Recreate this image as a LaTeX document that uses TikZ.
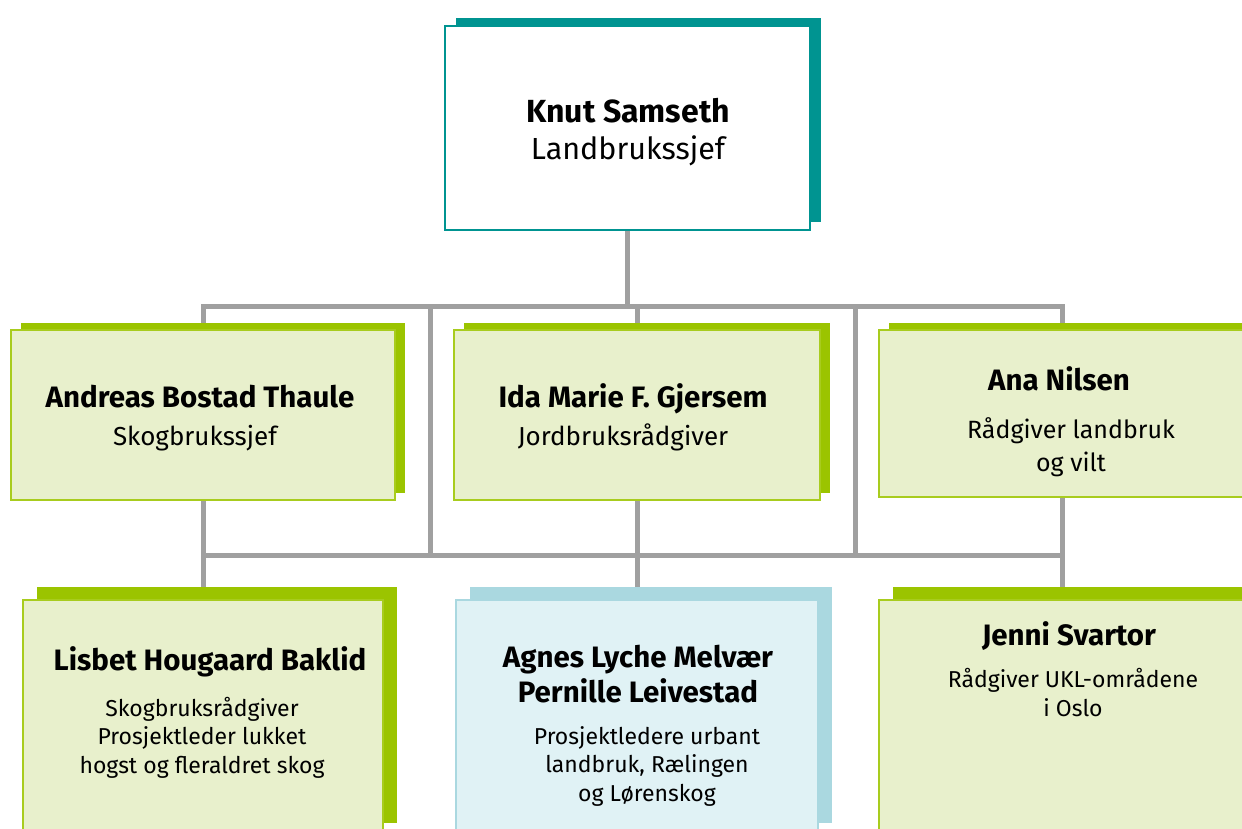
\documentclass[tikz,border=0pt]{standalone}
\usepackage{fontspec}
\setmainfont{Fira Sans}
\usetikzlibrary{shadows,backgrounds}

\definecolor{teal1}{HTML}{009491}
\definecolor{gronn}{HTML}{9BC400}
\definecolor{kantgronn}{HTML}{A8CC1E}
\definecolor{lysgronn}{HTML}{E8F0CC}
\definecolor{bla}{HTML}{AAD8E0}
\definecolor{lysbla}{HTML}{E0F2F5}
\definecolor{linjegraa}{HTML}{A0A0A0}

\begin{document}
\begin{tikzpicture}[x=1pt, y=-1pt,
  box/.style={rectangle, inner sep=0pt, outer sep=0pt, line width=1.5pt},
  lederbox/.style={box, fill=white, draw=teal1, minimum width=365pt, minimum height=204pt,
    general shadow={shadow xshift=11pt, shadow yshift=8pt, fill=teal1}},
  midtbox/.style={box, fill=lysgronn, draw=kantgronn, minimum width=366pt, minimum height=170pt,
    general shadow={shadow xshift=10pt, shadow yshift=7pt, fill=gronn}},
  nedrebox/.style={box, fill=lysgronn, draw=kantgronn, minimum width=362pt, minimum height=236pt,
    general shadow={shadow xshift=14pt, shadow yshift=13pt, fill=gronn}},
  blabox/.style={nedrebox, fill=lysbla, draw=bla,
    general shadow={shadow xshift=14pt, shadow yshift=13pt, fill=bla}},
  bus/.style={draw=linjegraa, line width=5pt},
  navn/.style={anchor=base, align=center, inner sep=0pt, font=\bfseries\fontsize{29.5}{35}\selectfont},
  rolle/.style={anchor=base, align=center, inner sep=0pt, font=\fontsize{23}{28.5}\selectfont},
  midtrolle/.style={rolle, font=\fontsize{26}{33}\selectfont}]
\useasboundingbox (0,0) rectangle (1242,829);

% boksene
\node[lederbox] (leder) at (627.5,128) {};
\node[midtbox, minimum width=384pt] (skog) at (203,415) {};
\node[midtbox] (jord) at (637,415) {};
\node[midtbox, minimum height=167pt] (vilt) at (1062,413.5) {};
\node[nedrebox, minimum width=360pt] (skograd) at (203,718) {};
\node[blabox] (urban) at (637,718) {};
\node[nedrebox, minimum width=366pt] (ukl) at (1062,718) {};

% tekstene
\node[navn, font=\bfseries\fontsize{32}{37}\selectfont] (leder-navn) at (628,123) {Knut Samseth};
\node[rolle, font=\fontsize{30.5}{37}\selectfont] (leder-rolle) at (628,160) {Landbrukssjef};
\node[navn] (skog-navn) at (200,407) {Andreas Bostad Thaule};
\node[midtrolle] (skog-rolle) at (195,445) {Skogbrukssjef};
\node[navn] (jord-navn) at (633,407) {Ida Marie F. Gjersem};
\node[midtrolle] (jord-rolle) at (623,445) {Jordbruksrådgiver};
\node[navn] (vilt-navn) at (1059,390) {Ana Nilsen};
\node[midtrolle, font=\fontsize{25}{32.5}\selectfont] (vilt-rolle) at (1071,471) {Rådgiver landbruk\\og vilt};
\node[navn] (skograd-navn) at (210,670) {Lisbet Hougaard Baklid};
\node[rolle] (skograd-rolle) at (202,773) {Skogbruksrådgiver\\Prosjektleder lukket\\hogst og fleraldret skog};
\node[navn] (urban-navn) at (638,702) {Agnes Lyche Melvær\\Pernille Leivestad};
\node[rolle] (urban-rolle) at (647,801) {Prosjektledere urbant\\landbruk, Rælingen\\og Lørenskog};
\node[navn] (ukl-navn) at (1069,645) {Jenni Svartor};
\node[rolle] (ukl-rolle) at (1073,716) {Rådgiver UKL-områdene\\i Oslo};

% linjene
\coordinate (toppbuss) at (627.5,306);
\coordinate (bunnbuss) at (637,555);
\coordinate (venstrestolpe) at (430.5,306);
\coordinate (hoyrestolpe) at (855,306);
\begin{scope}[on background layer]
\draw[bus] (leder) -- (toppbuss);
\draw[bus] (skog.north) -- (skog.north |- toppbuss) -- (vilt.north |- toppbuss) -- (vilt.north);
\draw[bus] (toppbuss -| jord.north) -- (jord.north);
\draw[bus] (venstrestolpe) -- (venstrestolpe |- bunnbuss);
\draw[bus] (hoyrestolpe) -- (hoyrestolpe |- bunnbuss);
\draw[bus] (skog.south |- bunnbuss) -- (vilt.south |- bunnbuss);
\draw[bus] (skog) -- (skograd);
\draw[bus] (jord) -- (urban);
\draw[bus] (vilt) -- (ukl);
\end{scope}
\end{tikzpicture}
\end{document}
